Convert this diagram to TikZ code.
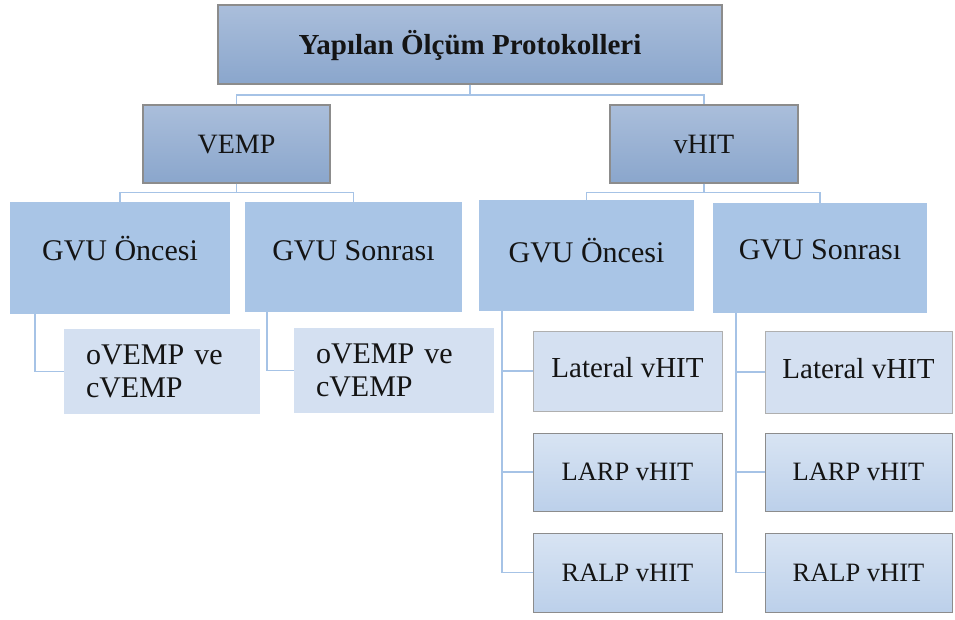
\documentclass[tikz,border=0pt]{standalone}
\usepackage{fontspec}
\setmainfont{Liberation Serif}
\definecolor{topA}{HTML}{AABEDB}
\definecolor{topB}{HTML}{8AA6CC}
\definecolor{gvu}{HTML}{A9C5E6}
\definecolor{lightbox}{HTML}{D4E0F1}
\definecolor{leafA}{HTML}{D8E4F3}
\definecolor{leafB}{HTML}{BCD0EA}
\definecolor{connc}{HTML}{A6C3E6}
\definecolor{edgec}{HTML}{8C8C8C}
\tikzset{
  box/.style={rectangle, inner sep=0pt, text=black!92, align=center},
  headbox/.style={box, top color=topA, bottom color=topB, draw=edgec, line width=1.2pt},
  gvubox/.style={box, fill=gvu, font=\fontsize{30}{33}\selectfont, text height=20pt, text depth=16pt},
  vempleaf/.style={box, fill=lightbox, font=\fontsize{30}{33}\selectfont, align=left, text width=152pt, inner xsep=22pt, minimum height=85pt},
  latbox/.style={box, fill=lightbox, draw=edgec!70, line width=0.7pt, font=\fontsize{29}{32}\selectfont, text height=19pt, text depth=7pt},
  leafbox/.style={box, top color=leafA, bottom color=leafB, draw=edgec, line width=0.9pt, font=\fontsize{26.5}{30}\selectfont, text height=17.5pt, text depth=0pt},
  conn/.style={draw=connc, line width=1.4pt}
}
\begin{document}
\begin{tikzpicture}[x=1pt,y=-1pt]
\useasboundingbox[fill=white] (0,0) rectangle (955,619);

\node[headbox, minimum width=504pt, minimum height=79pt, font=\bfseries\fontsize{29}{32}\selectfont, text height=19pt, text depth=0pt] (top) at (470,44.5) {Yapılan Ölçüm Protokolleri};

\node[headbox, minimum width=187pt, minimum height=78pt, font=\fontsize{28}{31}\selectfont, text height=18.5pt, text depth=0pt] (vemp) at (236.5,144) {VEMP};
\node[headbox, minimum width=188pt, minimum height=78pt, font=\fontsize{28}{31}\selectfont, text height=18.5pt, text depth=0pt] (vhit) at (704,144) {vHIT};

\node[gvubox, minimum width=220pt, minimum height=112pt] (g1) at (120,258) {GVU Öncesi};
\node[gvubox, minimum width=217pt, minimum height=110pt, text depth=14pt] (g2) at (353.5,257) {GVU Sonrası};
\node[gvubox, minimum width=215pt, minimum height=111pt, text depth=7pt] (g3) at (586.5,255.5) {GVU Öncesi};
\node[gvubox, minimum width=214pt, minimum height=110pt, text depth=18pt] (g4) at (820,258) {GVU Sonrası};

\node[vempleaf] (c1) at (162,371.5) {oVEMP ve\\cVEMP};
\node[vempleaf, text width=156pt] (c2) at (394,370.5) {oVEMP ve\\cVEMP};

\node[latbox, minimum width=189pt, minimum height=80pt] (l1) at (627.5,371) {Lateral vHIT};
\node[leafbox, minimum width=189pt, minimum height=78pt] (l2) at (627.5,472) {LARP vHIT};
\node[leafbox, minimum width=189pt, minimum height=79pt] (l3) at (627.5,572.5) {RALP vHIT};

\node[latbox, minimum width=187pt, minimum height=82pt] (r1) at (858.5,372) {Lateral vHIT};
\node[leafbox, minimum width=187pt, minimum height=78pt] (r2) at (858.5,472) {LARP vHIT};
\node[leafbox, minimum width=187pt, minimum height=79pt] (r3) at (858.5,572.5) {RALP vHIT};

% connectors
\draw[conn] (top.south) -- ++(0,10.5) -| (vemp.north);
\draw[conn] (top.south) -- ++(0,10.5) -| (vhit.north);
\draw[conn] (vemp.south) -- ++(0,9) -| (g1.north);
\draw[conn] (vemp.south) -- ++(0,9) -| (g2.north);
\draw[conn] (vhit.south) -- ++(0,9) -| (g3.north);
\draw[conn] (vhit.south) -- ++(0,9) -| (g4.north);

\draw[conn] ([xshift=25pt]g1.south west) |- (c1.west);
\draw[conn] ([xshift=22pt]g2.south west) |- (c2.west);
\draw[conn] ([xshift=23pt]g3.south west) |- (l1.west);
\draw[conn] ([xshift=23pt]g3.south west) |- (l2.west);
\draw[conn] ([xshift=23pt]g3.south west) |- (l3.west);
\draw[conn] ([xshift=23pt]g4.south west) |- (r1.west);
\draw[conn] ([xshift=23pt]g4.south west) |- (r2.west);
\draw[conn] ([xshift=23pt]g4.south west) |- (r3.west);
\end{tikzpicture}
\end{document}
